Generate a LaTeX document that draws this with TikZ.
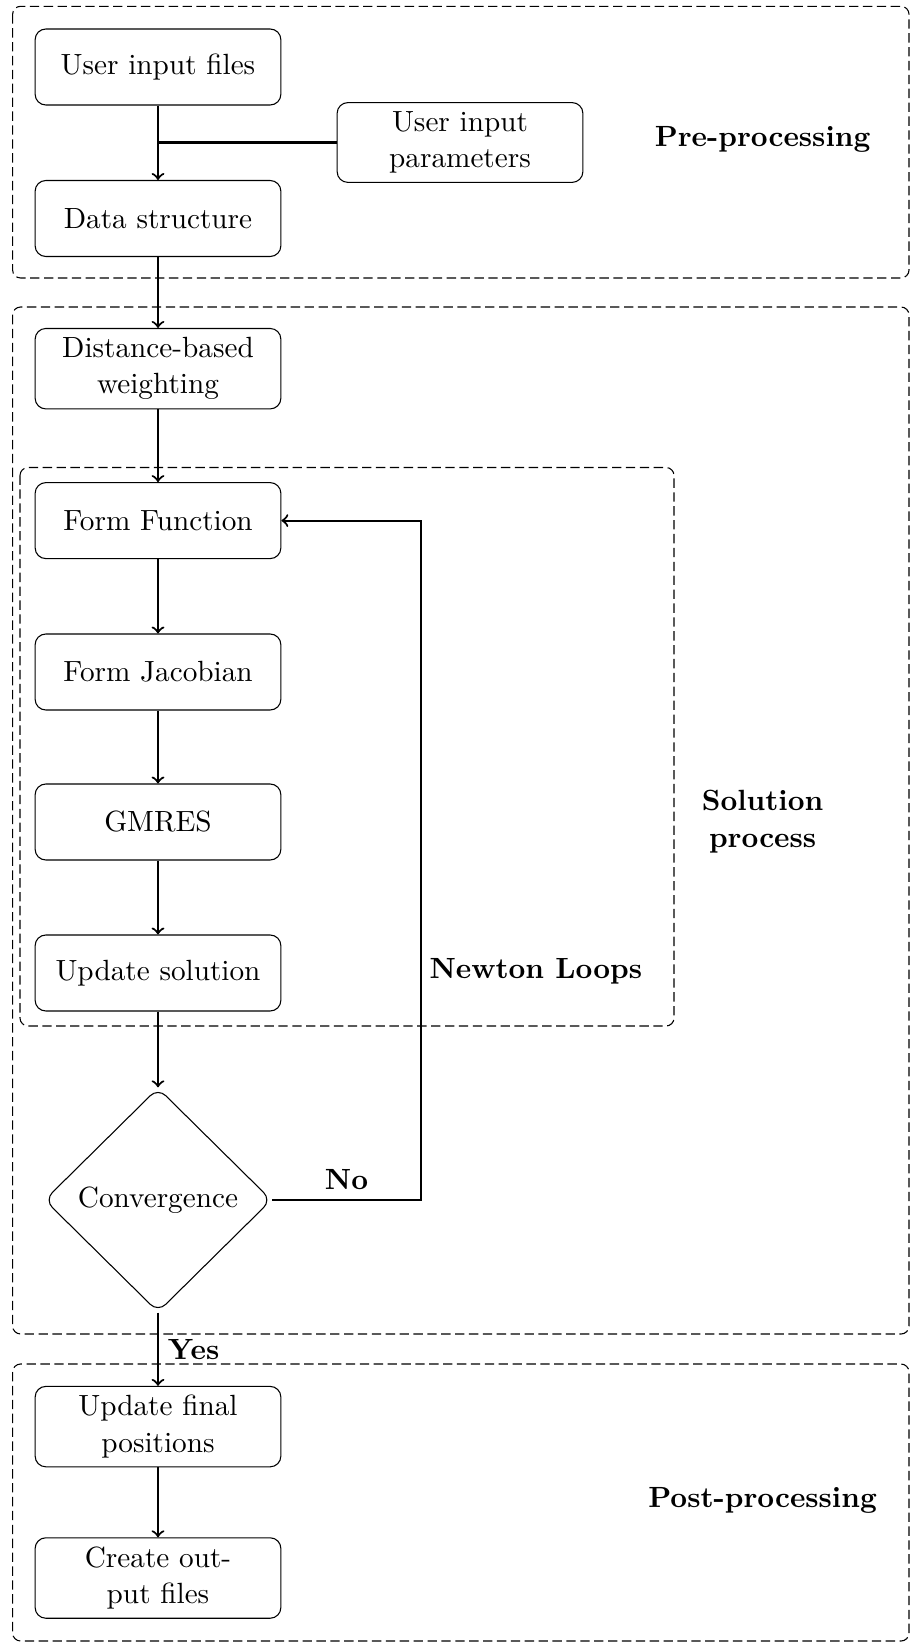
\documentclass[tikz,border=0pt]{standalone}
\usetikzlibrary{shapes.geometric}
\begin{document}
\begin{tikzpicture}[x=0.3745pt,y=-0.3745pt,
  font=\fontsize{10.95}{13.6}\selectfont,
  proc/.style={draw, rounded corners=4pt, text width=3cm, align=center, minimum height=1cm, inner sep=0.3333em, line width=0.4pt},
  dec/.style={draw, diamond, aspect=1, rounded corners=4pt, minimum width=85pt, minimum height=84pt, inner sep=0pt, line width=0.4pt},
  flow/.style={->, thick},
  link/.style={thick},
  group/.style={draw, dash pattern=on 3.5pt off 1.7pt, rounded corners=3pt, line width=0.4pt},
  lbl/.style={font=\fontsize{10.95}{13.6}\selectfont\bfseries, align=center}]
\useasboundingbox (0,0) rectangle (916,1648);

% group frames
\coordinate (preA) at (12.6,6.3);   \coordinate (preB) at (909,278);
\coordinate (solA) at (12.6,307);   \coordinate (solB) at (909,1334);
\coordinate (postA) at (12.6,1364); \coordinate (postB) at (909,1641);
\coordinate (newA) at (20,467.5);   \coordinate (newB) at (674,1026);
\draw[group] (preA) rectangle (preB);
\draw[group] (solA) rectangle (solB);
\draw[group] (postA) rectangle (postB);
\draw[group] (newA) rectangle (newB);

% nodes
\node[proc] (uif) at (158,67) {User input files};
\node[proc] (uip) at (460,142.5) {User input\\parameters};
\node[proc] (ds) at (158,218.5) {Data structure};
\node[proc] (dbw) at (158,368.7) {Distance-based\\weighting};
\node[proc] (ff) at (158,520.6) {Form Function};
\node[proc] (fj) at (158,672) {Form Jacobian};
\node[proc] (gm) at (158,822) {GMRES};
\node[proc] (us) at (158,973) {Update solution};
\node[dec] (conv) at (158,1200) {Convergence};
\node[proc] (ufp) at (158,1426.6) {Update final\\positions};
\node[proc] (cof) at (158,1578) {Create out-\\put files};

% group labels
\node[lbl] (lpre) at (762.6,139.7) {Pre-processing};
\node[lbl] (lsol) at (762.6,821.5) {Solution\\process};
\node[lbl] (lpost) at (762.6,1500) {Post-processing};
\node[lbl] (lnewton) at (535.8,971.7) {Newton Loops};

% connectors
\draw[flow] (uif) -- (ds);
\draw[link] (uip.west) -- (uip.west -| uif.south);
\draw[flow] (ds) -- (dbw);
\draw[flow] (dbw) -- (ff);
\draw[flow] (ff) -- (fj);
\draw[flow] (fj) -- (gm);
\draw[flow] (gm) -- (us);
\draw[flow] (us) -- (conv);
\coordinate (turn) at (421,1200);
\draw[flow] (conv.east) -- node[lbl, above] (lno) {No} (turn) |- (ff.east);
\draw[flow] (conv) -- node[lbl, right] (lyes) {Yes} (ufp);
\draw[flow] (ufp) -- (cof);
\end{tikzpicture}
\end{document}
